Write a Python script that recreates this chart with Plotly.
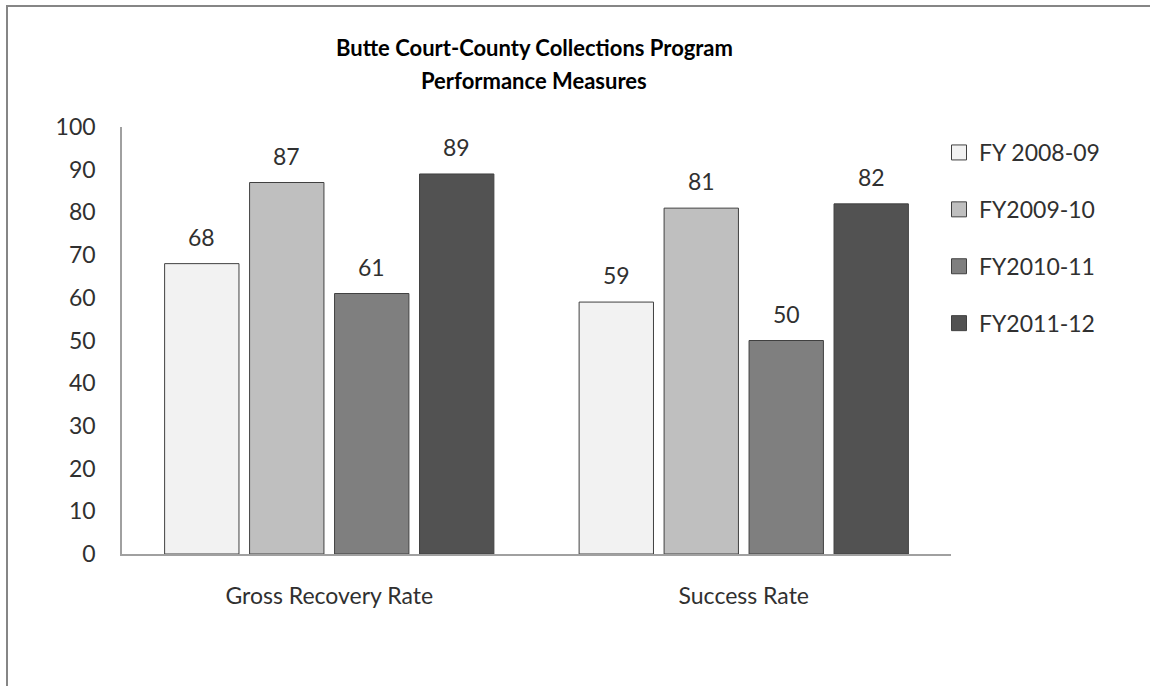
import plotly.graph_objects as go

categories = ["Gross Recovery Rate", "Success Rate"]
series_names = ["FY 2008-09", "FY2009-10", "FY2010-11", "FY2011-12"]
fy0809 = [68, 59]
fy0910 = [87, 81]
fy1011 = [61, 50]
fy1112 = [89, 82]
series_values = [fy0809, fy0910, fy1011, fy1112]
colors = ["#F2F2F2", "#BFBFBF", "#7F7F7F", "#525252"]
y_ticks = list(range(0, 101, 10))

FONT = "Lato, 'Open Sans', sans-serif"
FS = 23

L, R, T, B = 122, 951, 127, 554
W, H = 1150, 686
BARGAP, GROUPGAP = 0.18, 0.125
cat_px = (R - L) / len(categories)
slot_px = cat_px * (1 - BARGAP) / len(series_names)

fig = go.Figure()
for i, (name, vals) in enumerate(zip(series_names, series_values)):
    fig.add_trace(go.Bar(
        x=categories, y=vals, name=name, legendgroup=name, showlegend=False,
        marker=dict(color=colors[i], line=dict(color="#404040", width=1)),
    ))
    # legend entry with a larger square swatch
    fig.add_trace(go.Scatter(
        x=[None], y=[None], mode="markers", name=name, legendgroup=name,
        marker=dict(symbol="square", size=15, color=colors[i],
                    line=dict(color="#404040", width=1)),
    ))
    off = (i - (len(series_names) - 1) / 2) * slot_px
    for c, v in zip(categories, vals):
        fig.add_annotation(x=c, y=v, xref="x", yref="y", text=str(v),
                           showarrow=False, xshift=off, yshift=27,
                           yanchor="middle", xanchor="center",
                           font=dict(size=FS, color="#303030", family=FONT))

fig.update_layout(
    width=W, height=H,
    margin=dict(l=L, r=W - R, t=T, b=H - B, pad=0),
    paper_bgcolor="white", plot_bgcolor="white",
    barmode="group", bargap=BARGAP, bargroupgap=GROUPGAP,
    font=dict(family=FONT, size=FS, color="#303030"),
    legend=dict(x=(939 - L) / (R - L), xanchor="left", y=(B - 131) / (B - T), yanchor="top",
                font=dict(size=FS, color="#303030", family=FONT),
                traceorder="grouped", tracegroupgap=24,
                itemwidth=30, bgcolor="rgba(0,0,0,0)"),
    xaxis=dict(showline=True, linecolor="#A0A0A0", linewidth=1.5,
               ticks="", tickfont=dict(size=FS), showgrid=False, ticklabelstandoff=21),
    yaxis=dict(range=[0, 100], tickvals=y_ticks, showline=True, linecolor="#A0A0A0",
               linewidth=1.5, ticks="", showgrid=False, tickfont=dict(size=FS),
               zeroline=False, ticklabelstandoff=20),
    showlegend=True,
)
title_lines = ["Butte Court-County Collections Program", "Performance Measures"]
for txt, ypx in zip(title_lines, [47, 80]):
    fig.add_annotation(text="<b>%s</b>" % txt, xref="paper", yref="paper",
                       x=(534 - L) / (R - L), y=(B - ypx) / (B - T),
                       xanchor="center", yanchor="middle", showarrow=False,
                       font=dict(size=22, color="#000000", family=FONT))
fig.add_shape(type="rect", xref="paper", yref="paper",
              x0=(7 - L) / (R - L), x1=(1170 - L) / (R - L),
              y0=(B - 710) / (B - T), y1=(B - 6) / (B - T),
              line=dict(color="#868686", width=2), fillcolor="rgba(0,0,0,0)", layer="below")
fig.write_html("out.html")
